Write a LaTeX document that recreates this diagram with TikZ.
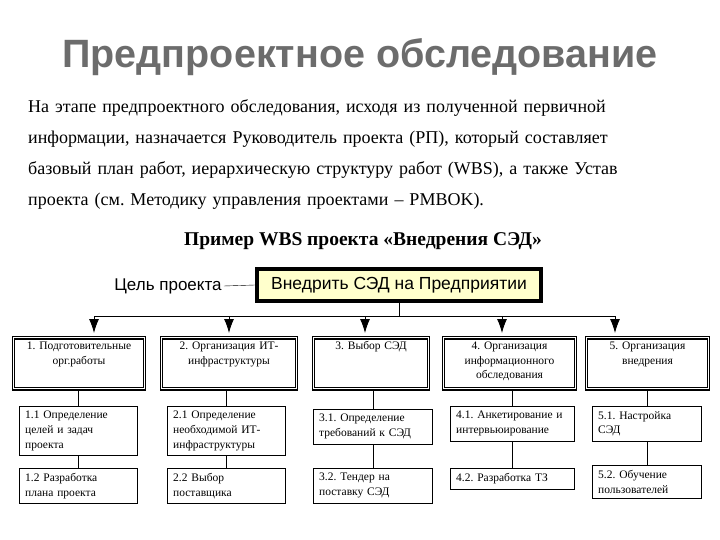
\documentclass[tikz,border=0pt]{standalone}
\usepackage{fontspec}
\usetikzlibrary{arrows.meta}
\setmainfont{Liberation Serif}
\setsansfont{Liberation Sans}
\frenchspacing
\definecolor{titlegray}{RGB}{108,108,108}
\definecolor{goalfill}{RGB}{255,255,204}
\begin{document}
\begin{tikzpicture}[x=1pt, y=-1pt]
        \tikzset{
            topbox/.style={draw, double, double distance=1pt, line width=1.4pt, anchor=north, align=center, inner xsep=3pt, inner ysep=3pt, text height=9pt, text depth=36pt, font=\fontsize{11.5}{14.5}\selectfont},
            subbox/.style={draw, anchor=north west, align=left, inner xsep=6pt, inner ysep=5pt, font=\fontsize{11.5}{14.7}\selectfont},
            wbsarrow/.style={-{Latex[length=14pt,width=10pt]}, line width=0.8pt}
        }
        \useasboundingbox (0,0) rectangle (720,540);

        \node[font=\sffamily\bfseries\fontsize{39.5}{44}\selectfont, text=titlegray] (title) at (360,57) {Предпроектное обследование};
        \node[anchor=base west, align=left, inner sep=0pt, text width=650pt, font=\fontsize{18}{30.8}\selectfont] (intro) at (28,113) {На этапе предпроектного обследования, исходя из полученной первичной\\информации, назначается Руководитель проекта (РП), который составляет\\базовый план работ, иерархическую структуру работ (WBS), а также Устав\\проекта (см. Методику управления проектами -- PMBOK).};
        \node[font=\bfseries\fontsize{19.5}{22}\selectfont] (caption) at (363,241) {Пример WBS проекта «Внедрения СЭД»};

        \node[font=\sffamily\fontsize{17}{20}\selectfont, inner sep=2pt] (goallbl) at (168,286) {Цель проекта};
        \node[draw, line width=4pt, fill=goalfill, minimum width=284pt, minimum height=32pt, font=\sffamily\fontsize{17.5}{20}\selectfont] (goal) at (399,285) {Внедрить СЭД на Предприятии};
        \draw (goallbl.east) -- (goal.west);

        \node[topbox, text width=125pt] (t1) at (79,337) {1. Подготовительные\\орг.работы};
        \node[topbox, text width=129pt] (t2) at (229,337) {2. Организация ИТ-\\инфраструктуры};
        \node[topbox, text width=109pt] (t3) at (371,337) {3. Выбор СЭД};
        \node[topbox, text width=126pt] (t4) at (509.5,337) {4. Организация\\информационного\\обследования};
        \node[topbox, text width=116pt] (t5) at (647.5,337) {5. Организация\\внедрения};

        \coordinate (a1) at (94,316);
        \coordinate (a2) at (229,316);
        \coordinate (a3) at (365,316);
        \coordinate (a4) at (502,316);
        \coordinate (a5) at (615,316);
        \coordinate (b1) at (94,333);
        \coordinate (b2) at (229,333);
        \coordinate (b3) at (365,333);
        \coordinate (b4) at (502,333);
        \coordinate (b5) at (615,333);
        \draw (goal.south) -- (goal.south |- a1);
        \draw (a1) -- (a5);
        \draw[wbsarrow] (a1) -- (b1);
        \draw[wbsarrow] (a2) -- (b2);
        \draw[wbsarrow] (a3) -- (b3);
        \draw[wbsarrow] (a4) -- (b4);
        \draw[wbsarrow] (a5) -- (b5);

        \node[subbox, text width=106pt] (s11) at (19,406) {1.1 Определение\\целей и задач\\проекта};
        \node[subbox, text width=106pt] (s12) at (19,468) {1.2 Разработка\\плана проекта};
        \node[subbox, text width=106pt] (s21) at (167,406) {2.1 Определение\\необходимой ИТ-\\инфраструктуры};
        \node[subbox, text width=106pt] (s22) at (167,468) {2.2 Выбор\\поставщика};
        \node[subbox, text width=107pt] (s31) at (313,409) {3.1. Определение\\требований к СЭД};
        \node[subbox, text width=107pt] (s32) at (313,468) {3.2. Тендер на\\поставку СЭД};
        \node[subbox, text width=112pt] (s41) at (450,406) {4.1. Анкетирование и\\интервьюирование};
        \node[subbox, text width=112pt] (s42) at (450,468) {4.2. Разработка ТЗ};
        \node[subbox, text width=97pt] (s51) at (592,406) {5.1. Настройка\\СЭД};
        \node[subbox, text width=97pt] (s52) at (592,465) {5.2. Обучение\\пользователей};

        \draw (s11.north |- t1.south) -- (s11.north);
        \draw (s11) -- (s12);
        \draw (s21.north |- t2.south) -- (s21.north);
        \draw (s21) -- (s22);
        \draw (s31.north |- t3.south) -- (s31.north);
        \draw (s31) -- (s32);
        \draw (s41.north |- t4.south) -- (s41.north);
        \draw (s41) -- (s42);
        \draw (s51.north |- t5.south) -- (s51.north);
        \draw (s51) -- (s52);
    \end{tikzpicture}
\end{document}
